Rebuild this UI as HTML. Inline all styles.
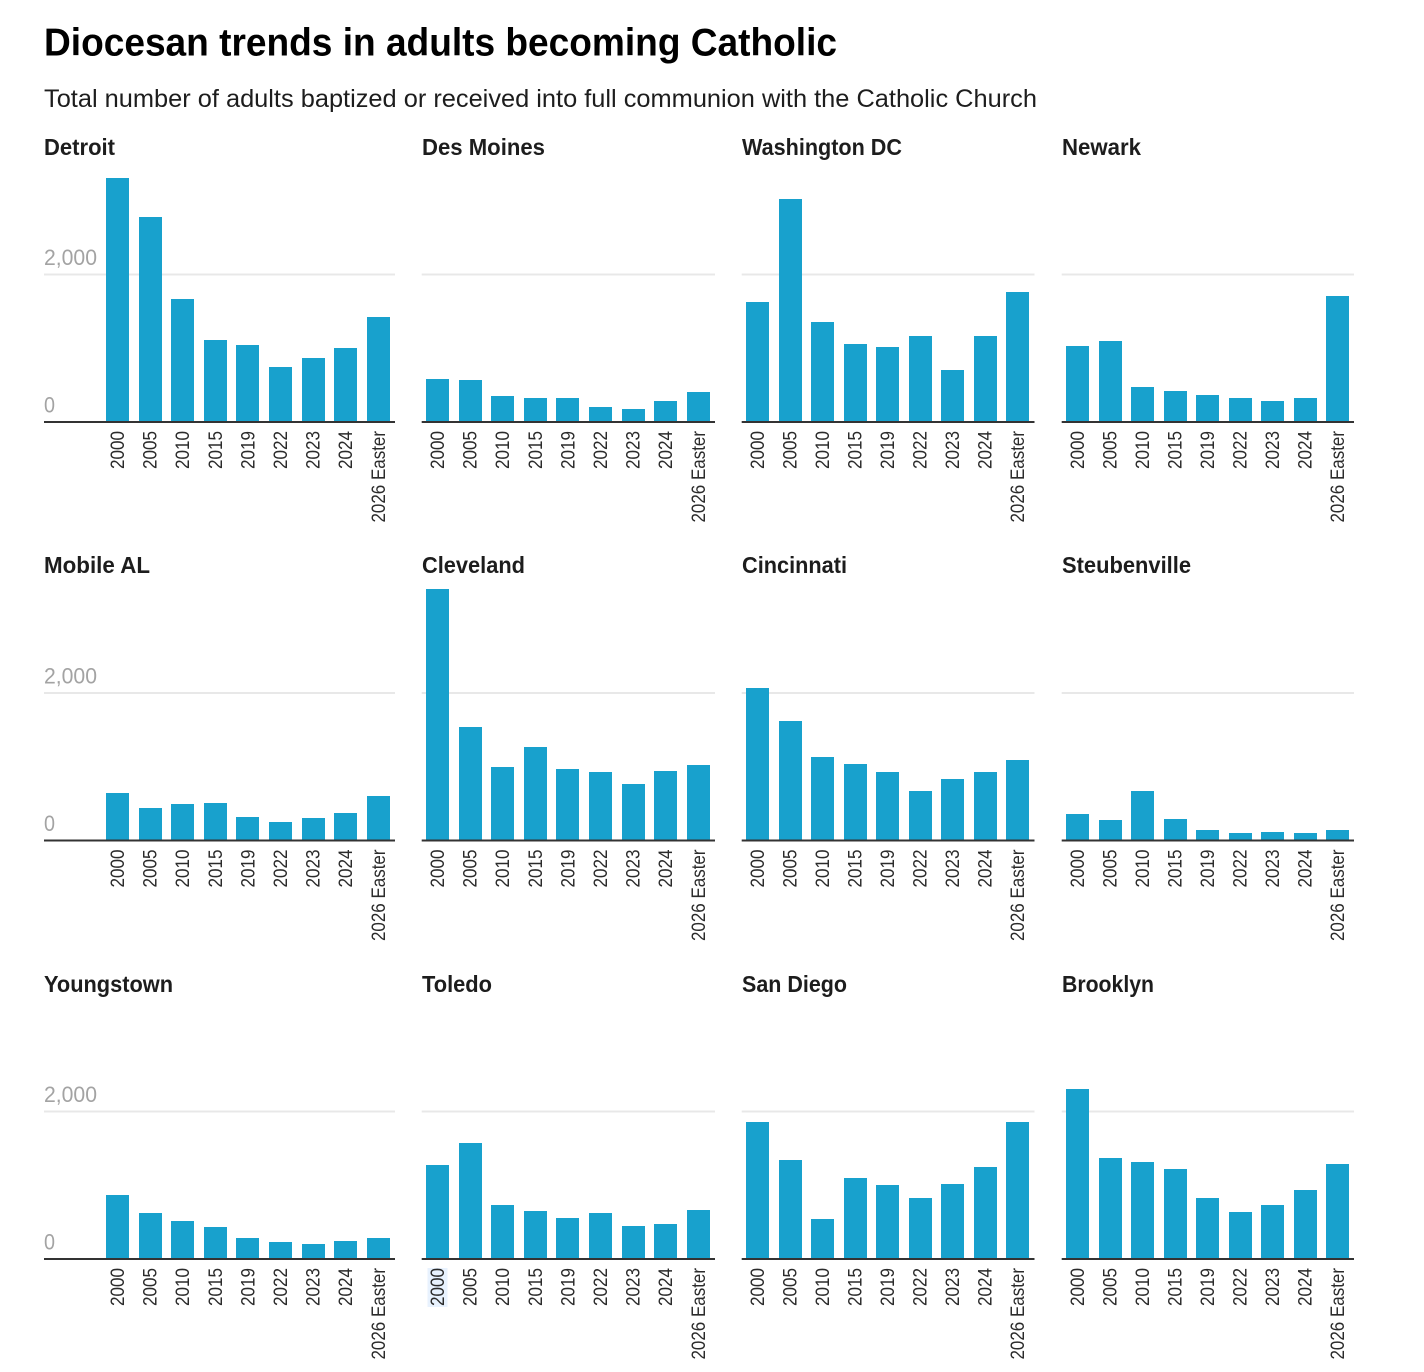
<!DOCTYPE html>
<html lang="en">
<head>
<meta charset="utf-8">
<title>Diocesan trends in adults becoming Catholic</title>
<style>
  html, body { margin: 0; padding: 0; background: #fff; }
  svg { display: block; font-family: "Liberation Sans", Arial, sans-serif; }
  .panel-title { font-size: 23px; font-weight: 700; fill: #1d1d1d; }
  .tick-y { font-size: 22px; fill: #a3a3a3; }
  .tick-x { font-size: 19px; fill: #2b2b2b; }
</style>
</head>
<body>
<svg id="chart" width="1424" height="1372" viewBox="0 0 1424 1372" xmlns="http://www.w3.org/2000/svg">
  <rect x="0" y="0" width="1424" height="1372" fill="#fff"/>
  <text x="44" y="55.5" font-size="39" font-weight="700" fill="#000" textLength="793" lengthAdjust="spacingAndGlyphs">Diocesan trends in adults becoming Catholic</text>
  <text x="44" y="107" font-size="25" fill="#1d1d1d" textLength="993" lengthAdjust="spacingAndGlyphs">Total number of adults baptized or received into full communion with the Catholic Church</text>

  <text class="panel-title" x="44" y="155" textLength="71" lengthAdjust="spacingAndGlyphs">Detroit</text>
  <text class="panel-title" x="422" y="155" textLength="123" lengthAdjust="spacingAndGlyphs">Des Moines</text>
  <text class="panel-title" x="742" y="155" textLength="160" lengthAdjust="spacingAndGlyphs">Washington DC</text>
  <text class="panel-title" x="1062" y="155" textLength="79" lengthAdjust="spacingAndGlyphs">Newark</text>
  <text class="panel-title" x="44" y="573" textLength="106" lengthAdjust="spacingAndGlyphs">Mobile AL</text>
  <text class="panel-title" x="422" y="573" textLength="103" lengthAdjust="spacingAndGlyphs">Cleveland</text>
  <text class="panel-title" x="742" y="573" textLength="105" lengthAdjust="spacingAndGlyphs">Cincinnati</text>
  <text class="panel-title" x="1062" y="573" textLength="129" lengthAdjust="spacingAndGlyphs">Steubenville</text>
  <text class="panel-title" x="44" y="992" textLength="129" lengthAdjust="spacingAndGlyphs">Youngstown</text>
  <text class="panel-title" x="422" y="992" textLength="70" lengthAdjust="spacingAndGlyphs">Toledo</text>
  <text class="panel-title" x="742" y="992" textLength="105" lengthAdjust="spacingAndGlyphs">San Diego</text>
  <text class="panel-title" x="1062" y="992" textLength="92" lengthAdjust="spacingAndGlyphs">Brooklyn</text>

  <rect x="427.5" y="1268" width="20" height="39" fill="#e8f2fe"/>
  <g id="panels"></g>
</svg>
<script>
const categories = ["2000", "2005", "2010", "2015", "2019", "2022", "2023", "2024", "2026 Easter"];
const yTicks = [0, 2000];
const yTickLabels = ["0", "2,000"];

const detroit = [3300, 2773, 1661, 1105, 1037, 739, 861, 997, 1417];
const desMoines = [576, 563, 346, 319, 319, 197, 169, 278, 400];
const washingtonDc = [1620, 3017, 1349, 1051, 1010, 1159, 698, 1159, 1756];
const newark = [1024, 1092, 468, 414, 359, 319, 278, 319, 1702];
const mobileAl = [637, 434, 488, 502, 312, 244, 298, 366, 597];
const cleveland = [3403, 1532, 990, 1261, 963, 922, 759, 936, 1017];
const cincinnati = [2061, 1614, 1125, 1031, 922, 664, 827, 922, 1085];
const steubenville = [353, 271, 664, 285, 136, 95, 108, 95, 136];
const youngstown = [861, 617, 508, 427, 278, 224, 197, 237, 278];
const toledo = [1268, 1566, 725, 644, 549, 617, 441, 468, 658];
const sanDiego = [1851, 1336, 536, 1092, 997, 820, 1010, 1241, 1851];
const brooklyn = [2298, 1363, 1308, 1214, 820, 631, 725, 929, 1281];

const seriesList = [detroit, desMoines, washingtonDc, newark, mobileAl, cleveland, cincinnati, steubenville, youngstown, toledo, sanDiego, brooklyn];
const seriesSlugs = ["detroit", "des-moines", "washington-dc", "newark", "mobile-al", "cleveland", "cincinnati", "steubenville", "youngstown", "toledo", "san-diego", "brooklyn"];

const NS = "http://www.w3.org/2000/svg";
const root = document.getElementById("panels");

function make(parent, tag, attrs) {
  const el = document.createElementNS(NS, tag);
  for (const key in attrs) el.setAttribute(key, attrs[key]);
  parent.appendChild(el);
  return el;
}
function columnLeft(col) { return col === 0 ? 44 : 421.7 + (col - 1) * 320; }
function columnRight(col) { return col === 0 ? 395 : 715 + (col - 1) * 319.5; }
function bandStart(col) { return 106 + col * 320; }
function bandStep(col) { return col < 2 ? 32.6 : 32.5; }
function rowBase(row) { return 422 + row * 418.5; }
function xBand(col, i) { return bandStart(col) + i * bandStep(col); }
const BAR_WIDTH = 23;
function yScale(row, value) { return rowBase(row) - 0.5 - value * 147.5 / 2000; }

seriesList.forEach(function (values, idx) {
  const col = idx % 4;
  const row = Math.floor(idx / 4);
  const slug = seriesSlugs[idx];
  const panel = make(root, "g", {});
  
  

  yTicks.forEach(function (tick) {
    if (tick === 0) return;
    const grid = make(panel, "rect", {
      x: columnLeft(col), y: yScale(row, tick) - 0.5,
      width: columnRight(col) - columnLeft(col), height: 2, fill: "#e8e8e8"
    });
    
    
  });

  values.forEach(function (value, i) {
    const left = Math.round(xBand(col, i));
    const top = yScale(row, value);
    const bar = make(panel, "rect", {
      x: left, y: top, width: BAR_WIDTH,
      height: rowBase(row) - top, fill: "#18a1cd", "shape-rendering": "crispEdges"
    });
    
    
  });

  const axis = make(panel, "rect", {
    x: columnLeft(col), y: rowBase(row) - 1,
    width: columnRight(col) - columnLeft(col), height: 2, fill: "#333"
  });
  
  

  categories.forEach(function (label, i) {
    const cx = xBand(col, i) + BAR_WIDTH / 2;
    const y = rowBase(row) + 9;
    const text = make(panel, "text", {
      class: "tick-x",
      transform: "translate(" + (cx + 6.5) + "," + y + ") rotate(-90)",
      "text-anchor": "end",
      textLength: label.length > 4 ? 91.5 : 38,
      lengthAdjust: "spacingAndGlyphs"
    });
    
    
    text.textContent = label;
  });

  if (col === 0) {
    yTicks.forEach(function (tick, t) {
      const text = make(panel, "text", {
        class: "tick-y", x: 44, y: yScale(row, tick) - 9,
        textLength: tick === 0 ? 11 : 53, lengthAdjust: "spacingAndGlyphs"
      });
      
      
      text.textContent = yTickLabels[t];
    });
  }
});
</script>
</body>
</html>
